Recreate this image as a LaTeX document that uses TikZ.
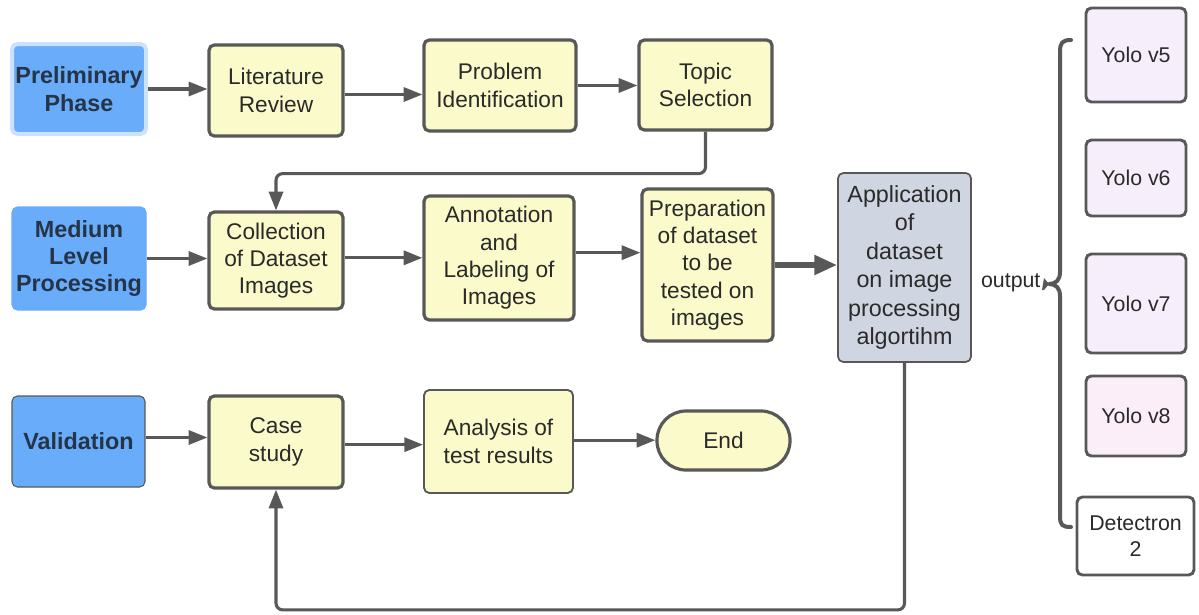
\documentclass[tikz,border=0pt]{standalone}
\usepackage{fontspec}
\setmainfont{Liberation Sans}
\usetikzlibrary{arrows.meta}
\definecolor{bluefill}{RGB}{104,172,250}
\definecolor{blueedge}{RGB}{205,226,250}
\definecolor{yelfill}{RGB}{250,250,202}
\definecolor{edgegray}{RGB}{88,88,88}
\definecolor{appfill}{RGB}{208,214,225}
\definecolor{lavfill}{RGB}{247,238,252}
\definecolor{pinkfill}{RGB}{252,238,248}
\definecolor{txt}{RGB}{42,42,42}
\definecolor{phasetxt}{RGB}{38,52,72}
\tikzset{
  base/.style={rounded corners=4pt, align=center, inner sep=1pt, text=txt,
    font=\fontsize{17}{20.5}\selectfont},
  phase/.style={base, fill=bluefill, draw=edgegray, line width=0.8pt, text=phasetxt,
    font=\fontsize{17.5}{20.5}\selectfont\bfseries},
  ybox/.style={base, fill=yelfill, draw=edgegray, line width=2.4pt},
  yboxthin/.style={base, fill=yelfill, draw=edgegray, line width=1.4pt},
  appbox/.style={base, fill=appfill, draw=edgegray, line width=1.3pt,
    font=\fontsize{17.5}{21.3}\selectfont},
  yolo/.style={base, fill=lavfill, draw=edgegray, line width=2.2pt,
    font=\fontsize{16}{19}\selectfont},
  arr/.style={draw=edgegray, line width=2.3pt,
    -{Triangle[length=14pt, width=10.5pt]}},
  bigarr/.style={draw=edgegray, line width=4.5pt,
    -{Triangle[length=17pt, width=14pt]}},
}
\begin{document}
\begin{tikzpicture}[x=0.75pt, y=-0.75pt]
\useasboundingbox (0,0) rectangle (1199,614);
% phases
\node[phase, draw=blueedge, line width=3pt, minimum width=134*0.75pt, minimum height=90*0.75pt] (pre) at (79,89) {Preliminary\\Phase};
\node[phase, draw=bluefill, minimum width=134*0.75pt, minimum height=103*0.75pt] (med) at (79,258.5) {Medium\\Level\\Processing};
\node[phase, minimum width=133*0.75pt, minimum height=91*0.75pt] (val) at (78.5,441.5) {Validation};
% row 1
\node[ybox, minimum width=134*0.75pt, minimum height=91*0.75pt] (lit) at (276,90.5) {Literature\\Review};
\node[ybox, minimum width=152*0.75pt, minimum height=91*0.75pt] (prob) at (500,85.5) {Problem\\Identification};
\node[ybox, minimum width=133*0.75pt, minimum height=90*0.75pt] (topic) at (705.5,85) {Topic\\Selection};
% row 2
\node[ybox, minimum width=134*0.75pt, minimum height=97*0.75pt] (coll) at (276,260.5) {Collection\\of Dataset\\Images};
\node[ybox, minimum width=150*0.75pt, minimum height=124*0.75pt] (ann) at (499,258) {Annotation\\and\\Labeling of\\Images};
\node[ybox, minimum width=131*0.75pt, minimum height=152*0.75pt] (prep) at (707.5,265) {Preparation\\of dataset\\to be\\tested on\\images};
\node[appbox, minimum width=133*0.75pt, minimum height=189*0.75pt] (app) at (904.5,267.5) {Application\\of\\dataset\\on image\\processing\\algortihm};
% row 3
\node[ybox, minimum width=134*0.75pt, minimum height=92*0.75pt] (case) at (276,442) {Case\\study};
\node[yboxthin, minimum width=149*0.75pt, minimum height=103*0.75pt] (ana) at (498.5,441.5) {Analysis of\\test results};
\node[ybox, rounded corners=29*0.75pt, minimum width=133*0.75pt, minimum height=59*0.75pt] (end) at (723.5,440.5) {End};
% outputs
\node[yolo, minimum width=100*0.75pt, minimum height=94*0.75pt] (y5) at (1136,55) {Yolo v5};
\node[yolo, minimum width=100*0.75pt, minimum height=76*0.75pt] (y6) at (1136,178) {Yolo v6};
\node[yolo, minimum width=100*0.75pt, minimum height=99*0.75pt] (y7) at (1136,303.5) {Yolo v7};
\node[yolo, fill=pinkfill, minimum width=100*0.75pt, minimum height=80*0.75pt] (y8) at (1136,416) {Yolo v8};
\node[yolo, fill=white, minimum width=117*0.75pt, minimum height=78*0.75pt] (det) at (1135.5,536) {Detectron\\2};
\node[base, font=\fontsize{16}{19}\selectfont, anchor=east] (out) at (1042,283) {output};
% brace
\coordinate (btip) at (1049,284);
\draw[edgegray, line width=3pt, line cap=round, line join=round]
  (1071,40) .. controls (1062,40) and (1060,43) .. (1060,52)
  -- (1060,272) .. controls (1060,280) and (1056,284) .. (btip)
  .. controls (1056,284) and (1060,288) .. (1060,296)
  -- (1060,516) .. controls (1060,525) and (1062,527) .. (1071,527);
\fill[edgegray] (out.east) ++(2,-5) -- (btip) -- ++(-5,6) -- ++(-2,0) -- cycle;
% arrows
\draw[arr] (pre.east) -- (pre.east -| lit.west);
\draw[arr] ([yshift=-3pt]lit.east) -- ([yshift=-3pt]lit.east -| prob.west);
\draw[arr] (prob.east) -- (prob.east -| topic.west);
\draw[arr, rounded corners=5pt] (topic.south) -- ++(0,42) -| (coll.north);
\draw[arr] (med.east) -- (med.east -| coll.west);
\draw[arr] ([yshift=2pt]coll.east) -- ([yshift=2pt]coll.east -| ann.west);
\draw[arr] ([yshift=4pt]ann.east) -- ([yshift=4pt]ann.east -| prep.west);
\draw[bigarr] (prep.east) -- (prep.east -| app.west);
\draw[arr] ([yshift=3pt]val.east) -- ([yshift=3pt]val.east -| case.west);
\draw[arr] ([yshift=-2pt]case.east) -- ([yshift=-2pt]case.east -| ana.west);
\draw[arr] ([yshift=1pt]ana.east) -- ([yshift=1pt]ana.east -| end.west);
\draw[arr, rounded corners=5pt] (app.south) -- ++(0,247) -| (case.south);
\end{tikzpicture}
\end{document}
